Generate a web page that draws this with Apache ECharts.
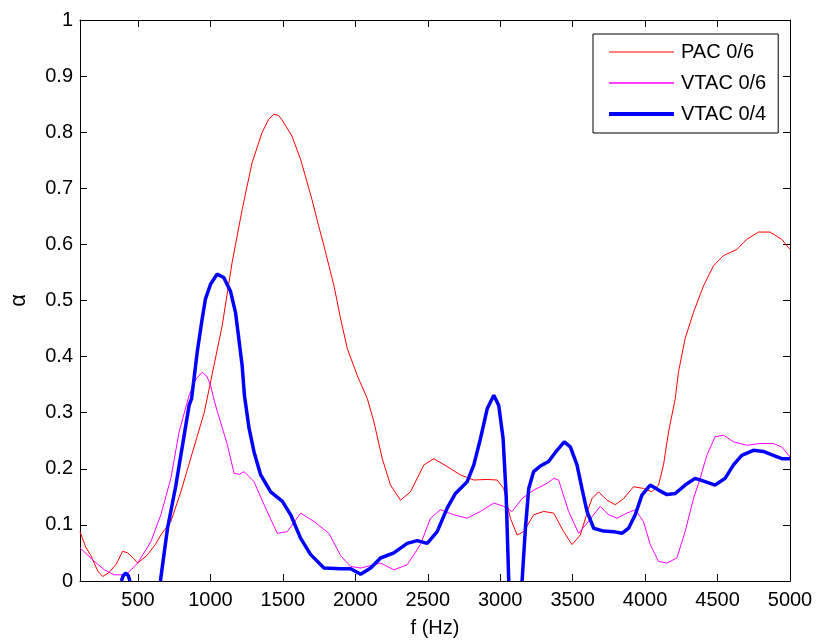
<!DOCTYPE html>
<html>
<head>
<meta charset="utf-8">
<script src="https://cdn.jsdelivr.net/npm/echarts@6/dist/echarts.min.js"></script>
<style>
html,body{margin:0;padding:0;background:#fff;}
#chart{width:816px;height:643px;}
</style>
</head>
<body>
<div id="chart"></div>
<script>
// ---- Data ----
const xTicks = [500,1000,1500,2000,2500,3000,3500,4000,4500,5000];

const pacFreq = [100,140,176,222,256,300,350,394,430,470,498,560,620,658,727,796,877,957,1003,1081,1150,1219,1287,1356,1400,1437,1470,1494,1563,1623,1655,1701,1747,1784,1853,1899,1945,2014,2083,2128,2186,2243,2312,2381,2473,2542,2634,2726,2818,2910,2979,3024,3070,3117,3162,3231,3300,3369,3438,3496,3553,3610,3634,3679,3737,3794,3852,3920,3989,4047,4093,4127,4162,4208,4230,4276,4334,4403,4472,4541,4633,4702,4782,4862,4943,5000];
const pacAlpha = [0.088,0.06,0.045,0.018,0.008,0.015,0.03,0.053,0.05,0.04,0.032,0.045,0.065,0.082,0.106,0.159,0.23,0.30,0.357,0.455,0.568,0.662,0.745,0.799,0.822,0.832,0.83,0.822,0.793,0.751,0.722,0.68,0.633,0.597,0.526,0.467,0.414,0.366,0.325,0.284,0.218,0.171,0.144,0.159,0.207,0.218,0.204,0.189,0.18,0.181,0.18,0.165,0.112,0.082,0.088,0.118,0.124,0.121,0.088,0.065,0.082,0.13,0.147,0.159,0.144,0.136,0.147,0.168,0.165,0.159,0.171,0.207,0.266,0.325,0.372,0.432,0.479,0.526,0.562,0.58,0.591,0.609,0.622,0.622,0.609,0.591];

const vtac6Freq = [100,199,268,337,417,498,589,658,727,784,853,900,943,975,1000,1023,1049,1118,1163,1200,1232,1301,1370,1462,1531,1623,1715,1818,1899,1968,2037,2174,2266,2358,2450,2519,2588,2680,2772,2864,2956,3024,3082,3151,3231,3323,3369,3403,3472,3541,3599,3690,3748,3806,3875,3932,3989,4035,4093,4150,4219,4276,4334,4380,4426,4483,4541,4610,4702,4793,4885,4943,5000];
const vtac6Alpha = [0.059,0.035,0.02,0.011,0.011,0.032,0.07,0.118,0.183,0.266,0.331,0.36,0.372,0.365,0.35,0.325,0.301,0.242,0.192,0.19,0.195,0.177,0.136,0.085,0.088,0.121,0.106,0.085,0.045,0.026,0.023,0.032,0.02,0.029,0.065,0.112,0.127,0.118,0.112,0.124,0.139,0.133,0.124,0.147,0.162,0.174,0.183,0.18,0.124,0.085,0.103,0.133,0.118,0.112,0.121,0.127,0.106,0.065,0.035,0.032,0.041,0.088,0.147,0.183,0.224,0.257,0.26,0.248,0.242,0.245,0.245,0.239,0.221];

const vtac4Freq = [385,400,417,432,445,550,655,704,762,819,853,870,909,943,966,1001,1046,1092,1138,1173,1196,1219,1235,1267,1301,1347,1416,1497,1554,1623,1692,1784,1899,1968,2037,2106,2174,2266,2358,2427,2496,2565,2634,2691,2772,2818,2864,2910,2956,2990,3020,3041,3059,3100,3151,3174,3197,3231,3277,3334,3392,3442,3484,3530,3564,3599,3645,3713,3783,3840,3886,3932,3978,4035,4093,4150,4208,4276,4345,4414,4483,4552,4610,4667,4747,4816,4885,4943,5000];
const vtac4Alpha = [0,0.01,0.014,0.01,0,null,0,0.094,0.171,0.26,0.313,0.325,0.408,0.467,0.503,0.529,0.547,0.541,0.517,0.479,0.432,0.384,0.33,0.272,0.23,0.189,0.159,0.142,0.118,0.076,0.047,0.023,0.022,0.022,0.012,0.023,0.041,0.05,0.067,0.072,0.067,0.088,0.13,0.156,0.177,0.207,0.254,0.307,0.331,0.313,0.254,0.153,0,null,0,0.094,0.165,0.195,0.205,0.213,0.233,0.248,0.239,0.207,0.165,0.124,0.094,0.089,0.088,0.085,0.094,0.118,0.153,0.171,0.162,0.154,0.156,0.171,0.183,0.177,0.171,0.183,0.207,0.224,0.233,0.231,0.224,0.218,0.218];

function pairs(f, a) { return f.map((x, i) => [x, a[i] === null ? '-' : a[i]]); }

const FONT = 'Arial, "Liberation Sans", sans-serif';
const chart = echarts.init(document.getElementById('chart'), null, {renderer: 'canvas'});

const baseLine = {show: true, onZero: false, lineStyle: {color: '#000', width: 1}};
const tickIn = {show: true, inside: true, length: 7, lineStyle: {color: '#000', width: 1}};

chart.setOption({
  animation: false,
  backgroundColor: '#fff',
  textStyle: {fontFamily: FONT},
  grid: {left: 79, right: 26, top: 20, bottom: 60, containLabel: false},
  legend: {
    orient: 'vertical',
    left: 593, top: 34,
    itemWidth: 65, itemHeight: 14, itemGap: 11,
    padding: [8, 12, 9, 14],
    borderColor: '#000', borderWidth: 1, backgroundColor: '#fff',
    itemStyle: {opacity: 0},
    textStyle: {fontSize: 20, color: '#000', fontFamily: FONT, padding: [0, 0, 0, 2]},
    data: [
      {name: 'PAC 0/6', lineStyle: {width: 1}},
      {name: 'VTAC 0/6', lineStyle: {width: 1.5}},
      {name: 'VTAC 0/4', lineStyle: {width: 4}}
    ]
  },
  xAxis: [
    {
      type: 'value', position: 'bottom', min: 100, max: 5000,
      axisLine: baseLine,
      axisTick: Object.assign({customValues: xTicks}, tickIn),
      axisLabel: {customValues: xTicks, fontSize: 20, color: '#000', margin: 9, fontFamily: FONT,
                  formatter: v => String(v)},
      splitLine: {show: false},
      name: 'f (Hz)', nameLocation: 'middle', nameGap: 37,
      nameTextStyle: {fontSize: 20, color: '#000', fontFamily: FONT}
    },
    {
      type: 'value', position: 'top', min: 100, max: 5000,
      axisLine: baseLine,
      axisTick: Object.assign({customValues: xTicks}, tickIn),
      axisLabel: {show: false, customValues: xTicks},
      splitLine: {show: false}
    }
  ],
  yAxis: [
    {
      type: 'value', position: 'left', min: 0, max: 1, interval: 0.1,
      axisLine: baseLine, axisTick: tickIn,
      axisLabel: {fontSize: 20, color: '#000', margin: 7, fontFamily: FONT},
      splitLine: {show: false},
      name: 'α', nameLocation: 'middle', nameGap: 50,
      nameTextStyle: {fontSize: 22, color: '#000', fontFamily: FONT}
    },
    {
      type: 'value', position: 'right', min: 0, max: 1, interval: 0.1,
      axisLine: baseLine, axisTick: tickIn,
      axisLabel: {show: false},
      splitLine: {show: false}
    }
  ],
  series: [
    {name: 'PAC 0/6', type: 'line', symbol: 'none', data: pairs(pacFreq, pacAlpha),
     lineStyle: {color: '#ff0000', width: 1}, itemStyle: {color: '#ff0000'}},
    {name: 'VTAC 0/6', type: 'line', symbol: 'none', data: pairs(vtac6Freq, vtac6Alpha),
     lineStyle: {color: '#ff00ff', width: 1}, itemStyle: {color: '#ff00ff'}},
    {name: 'VTAC 0/4', type: 'line', symbol: 'none', connectNulls: false, data: pairs(vtac4Freq, vtac4Alpha),
     lineStyle: {color: '#0000ff', width: 3.5}, itemStyle: {color: '#0000ff'}}
  ]
});
</script>
</body>
</html>
